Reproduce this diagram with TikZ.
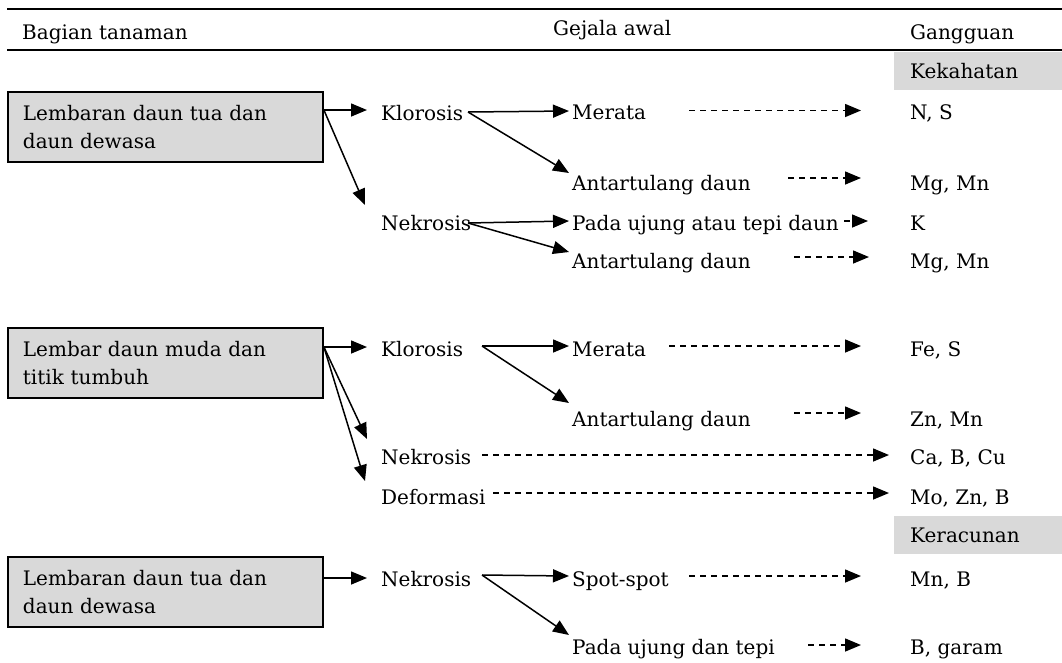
\documentclass[tikz,border=0pt]{standalone}
\usepackage{fontspec}
\setmainfont{DejaVu Serif}
\usetikzlibrary{arrows.meta}
\definecolor{boxgray}{HTML}{D9D9D9}
\begin{document}
\begin{tikzpicture}[x=1pt,y=-1pt,
  every node/.style={font=\fontsize{20}{28}\selectfont},
  lbl/.style={anchor=base west, inner sep=0pt},
  partbox/.style={draw, line width=1.9pt, fill=boxgray, anchor=north west,
    minimum width=315pt, minimum height=70pt, text width=285pt, align=left,
    inner xsep=15pt, inner ysep=0pt},
  tagbox/.style={fill=boxgray, anchor=north west, minimum width=168pt,
    minimum height=38pt, text width=136pt, align=left, inner xsep=16pt, inner ysep=0pt},
  arr/.style={-{Triangle[length=16pt,width=13pt]}, line width=1.5pt},
  darr/.style={arr, dash pattern=on 6pt off 5pt},
  rulel/.style={line width=1.8pt}]
\useasboundingbox (0,0) rectangle (1062,662);

% header rules
\coordinate (r1a) at (7,9);   \coordinate (r1b) at (1062,9);
\coordinate (r2a) at (7,50);  \coordinate (r2b) at (1062,50);
\draw[rulel] (r1a) -- (r1b);
\draw[rulel] (r2a) -- (r2b);
\node[lbl] (h1) at (22,39) {Bagian tanaman};
\node[lbl] (h2) at (553,35) {Gejala awal};
\node[lbl] (h3) at (910,39) {Gangguan};

% tags
\node[tagbox] (t1) at (894,52) {Kekahatan};
\node[tagbox] (t2) at (894,516) {Keracunan};

% ---------- section 1
\node[partbox] (b1) at (7,91) {Lembaran daun tua dan\\daun dewasa};
\node[lbl] (k1) at (381,120) {Klorosis};
\node[lbl] (n1) at (381,230) {Nekrosis};
\node[lbl] (m1) at (572,119) {Merata};
\node[lbl] (a1) at (572,190) {Antartulang daun};
\node[lbl] (p1) at (572,230) {Pada ujung atau tepi daun};
\node[lbl] (a2) at (572,268) {Antartulang daun};
\node[lbl] (g1) at (910,119) {N, S};
\node[lbl] (g2) at (910,190) {Mg, Mn};
\node[lbl] (g3) at (910,230) {K};
\node[lbl] (g4) at (910,268) {Mg, Mn};

\coordinate (k1t) at (367,110);
\coordinate (n1t) at (365,205);
\coordinate (k1o) at (468,112);
\coordinate (m1t) at (569,111);
\coordinate (a1t) at (569,173);
\coordinate (n1o) at (468,223);
\coordinate (p1t) at (569,221);
\coordinate (a2t) at (569,252);
\draw[arr] (b1.east |- k1t) -- (k1t);
\draw[arr] (b1.east |- k1t) -- (n1t);
\draw[arr] (k1o) -- (m1t);
\draw[arr] (k1o) -- (a1t);
\draw[arr] (n1o) -- (p1t);
\draw[arr] (n1o) -- (a2t);

\coordinate (d1s) at (689,110.5); \coordinate (d1e) at (861,110.5);
\coordinate (d2s) at (788,178);   \coordinate (d2e) at (861,178);
\coordinate (d3s) at (844,221);   \coordinate (d3e) at (868,221);
\coordinate (d4s) at (794,257);   \coordinate (d4e) at (869,257);
\draw[darr] (d1s) -- (d1e);
\draw[darr] (d2s) -- (d2e);
\draw[darr] (d3s) -- (d3e);
\draw[darr] (d4s) -- (d4e);

% ---------- section 2
\node[partbox] (b2) at (7,327) {Lembar daun muda dan\\titik tumbuh};
\node[lbl] (k2) at (381,356) {Klorosis};
\node[lbl] (n2) at (381,464) {Nekrosis};
\node[lbl] (f2) at (381,504) {Deformasi};
\node[lbl] (m2) at (572,356) {Merata};
\node[lbl] (a3) at (572,426) {Antartulang daun};
\node[lbl] (g5) at (910,356) {Fe, S};
\node[lbl] (g6) at (910,426) {Zn, Mn};
\node[lbl] (g7) at (910,464) {Ca, B, Cu};
\node[lbl] (g8) at (910,504) {Mo, Zn, B};

\coordinate (k2t) at (367,347);
\coordinate (x2t) at (367,439);
\coordinate (y2t) at (365,481);
\coordinate (k2o) at (482,346);
\coordinate (m2t) at (569,346);
\coordinate (a3t) at (569,403);
\draw[arr] (b2.east |- k2t) -- (k2t);
\draw[arr] (b2.east |- k2t) -- (x2t);
\draw[arr] (b2.east |- k2t) -- (y2t);
\draw[arr] (k2o) -- (m2t);
\draw[arr] (k2o) -- (a3t);

\coordinate (d5s) at (669,346);  \coordinate (d5e) at (861,346);
\coordinate (d6s) at (794,413);  \coordinate (d6e) at (861,413);
\coordinate (d7s) at (482,455);  \coordinate (d7e) at (889,455);
\coordinate (d8s) at (493,493);  \coordinate (d8e) at (889,493);
\draw[darr] (d5s) -- (d5e);
\draw[darr] (d6s) -- (d6e);
\draw[darr] (d7s) -- (d7e);
\draw[darr] (d8s) -- (d8e);

% ---------- section 3
\node[partbox] (b3) at (7,556) {Lembaran daun tua dan\\daun dewasa};
\node[lbl] (n3) at (381,586) {Nekrosis};
\node[lbl] (s3) at (572,586) {Spot-spot};
\node[lbl] (p3) at (572,654) {Pada ujung dan tepi};
\node[lbl] (g9) at (910,586) {Mn, B};
\node[lbl] (g10) at (910,654) {B, garam};

\coordinate (n3t) at (367,578);
\coordinate (n3o) at (482,575);
\coordinate (s3t) at (569,576);
\coordinate (p3t) at (569,635);
\draw[arr] (b3.east |- n3t) -- (n3t);
\draw[arr] (n3o) -- (s3t);
\draw[arr] (n3o) -- (p3t);

\coordinate (d9s) at (689,576);  \coordinate (d9e) at (861,576);
\coordinate (d10s) at (808,645); \coordinate (d10e) at (861,645);
\draw[darr] (d9s) -- (d9e);
\draw[darr] (d10s) -- (d10e);
\end{tikzpicture}
\end{document}
